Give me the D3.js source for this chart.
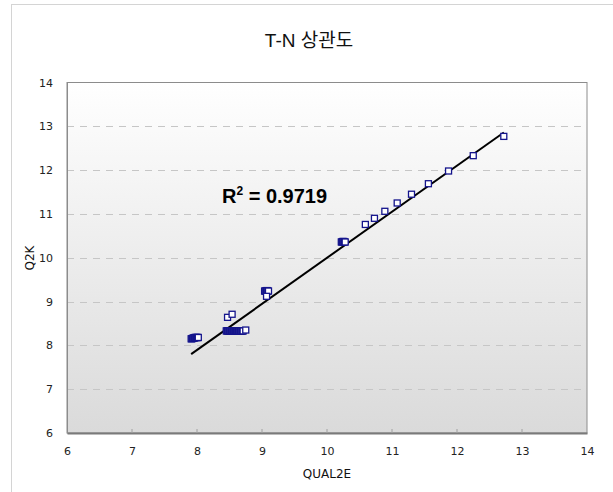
<!DOCTYPE html>
<html><head><meta charset="utf-8">
<script src="https://cdn.jsdelivr.net/npm/d3@7"></script>
<style>body{margin:0;background:#fff;} svg{display:block;}</style>
</head><body>
<svg id="c" width="613" height="492"></svg>
<script>
const qual2e = [7.91,7.92,7.93,7.94,7.95,7.96,7.97,7.98,7.99,8.00,8.01,8.02, 8.47,8.54,
  8.45,8.46,8.47,8.48,8.49,8.50,8.51,8.52,8.53,8.54,8.55,8.56,8.57,8.58,8.59,8.60,8.61,8.62,8.63,8.64,8.65,8.66,8.67,8.68,8.69,8.70,8.71,8.75,
  9.04,9.05,9.06,9.07,9.08,9.09,9.10,9.07, 10.22,10.23,10.24,10.25,10.26,10.27,10.28,
  10.59,10.73,10.89,11.08,11.30,11.56,11.87,12.25,12.72];
const q2k    = [8.15,8.15,8.16,8.16,8.17,8.17,8.18,8.18,8.18,8.18,8.18,8.18, 8.64,8.71,
  8.33,8.33,8.33,8.33,8.33,8.33,8.33,8.33,8.33,8.33,8.33,8.33,8.33,8.33,8.33,8.33,8.33,8.33,8.33,8.33,8.33,8.33,8.33,8.33,8.33,8.33,8.33,8.35,
  9.24,9.24,9.24,9.25,9.25,9.24,9.24,9.12, 10.36,10.36,10.37,10.37,10.37,10.36,10.36,
  10.76,10.90,11.06,11.25,11.45,11.69,11.98,12.33,12.77];
const trendX = [7.91, 12.72];
const trendY = [7.80, 12.86];
const xTicks = [6,7,8,9,10,11,12,13,14];
const yTicks = [6,7,8,9,10,11,12,13,14];
const title = "T-N 상관도";
const xLabel = "QUAL2E";
const yLabel = "Q2K";
const r2Text = "0.9719";

const svg = d3.select("#c");
const L=67, T=82.5, R=587, B=433;
const x = d3.scaleLinear().domain([6,14]).range([L,R]);
const y = d3.scaleLinear().domain([6,14]).range([B,T]);

// outer border
svg.append("rect").attr("x",11.5).attr("y",4.5).attr("width",640).attr("height",520)
  .attr("fill","#fff").attr("stroke","#d4d4d4");

const defs = svg.append("defs");
const g = defs.append("linearGradient").attr("id","bg").attr("x1",0).attr("y1",0).attr("x2",0).attr("y2",1);
g.append("stop").attr("offset","0%").attr("stop-color","#ffffff");
g.append("stop").attr("offset","100%").attr("stop-color","#dadada");

svg.append("rect").attr("x",L).attr("y",T).attr("width",R-L).attr("height",B-T)
  .attr("fill","url(#bg)").attr("stroke","#8c8c8c").attr("stroke-width",1);

// gridlines
svg.append("g").selectAll("line").data(yTicks.filter(d=>d>6&&d<14)).join("line")
  .attr("x1",L).attr("x2",R).attr("y1",d=>Math.round(y(d))+0.5).attr("y2",d=>Math.round(y(d))+0.5)
  .attr("stroke","#c6c6c6").attr("stroke-dasharray","7,6");

// x axis
const xa = svg.append("g").attr("transform",`translate(0,${B})`)
  .call(d3.axisBottom(x).tickValues(xTicks).tickSize(0).tickPadding(14).tickFormat(d3.format("d")));
xa.select(".domain").attr("stroke","#7a7a7a").attr("stroke-width",2);
xa.selectAll("text").attr("font-family","DejaVu Sans, Verdana, sans-serif").attr("font-size",11).attr("fill","#222");
svg.append("g").selectAll("line").data(xTicks.slice(1,-1)).join("line")
  .attr("x1",d=>x(d)).attr("x2",d=>x(d)).attr("y1",B).attr("y2",B-4).attr("stroke","#a0a0a0");

// y axis
const ya = svg.append("g").attr("transform",`translate(${L},0)`)
  .call(d3.axisLeft(y).tickValues(yTicks).tickSize(0).tickPadding(14).tickFormat(d3.format("d")));
ya.select(".domain").attr("stroke","#8c8c8c");
ya.selectAll("text").attr("font-family","DejaVu Sans, Verdana, sans-serif").attr("font-size",11).attr("fill","#222");

// trend line
svg.append("line").attr("x1",x(trendX[0])).attr("y1",y(trendY[0])).attr("x2",x(trendX[1])).attr("y2",y(trendY[1]))
  .attr("stroke","#000").attr("stroke-width",2);

// points
svg.append("g").selectAll("rect").data(qual2e.map((v,i)=>[v,q2k[i]])).join("rect")
  .attr("x",d=>x(d[0])-3).attr("y",d=>y(d[1])-3).attr("width",6).attr("height",6)
  .attr("fill","#fff").attr("stroke","#14148c").attr("stroke-width",1.3);

// title
svg.append("text").attr("x",309).attr("y",47).attr("text-anchor","middle")
  .attr("font-family","Liberation Sans, Noto Sans CJK KR, sans-serif").attr("font-size",19).attr("fill","#111").text(title);

// axis labels
svg.append("text").attr("x",327).attr("y",478).attr("text-anchor","middle")
  .attr("font-family","DejaVu Sans, Verdana, sans-serif").attr("font-size",12).attr("fill","#111").text(xLabel);
svg.append("text").attr("transform","translate(34,258) rotate(-90)").attr("text-anchor","middle")
  .attr("font-family","DejaVu Sans, Verdana, sans-serif").attr("font-size",12).attr("fill","#111").text(yLabel);

// R2
const rt = svg.append("text").attr("x",222).attr("y",203)
  .attr("font-family","Liberation Sans, Arial, sans-serif").attr("font-size",20).attr("font-weight","bold").attr("fill","#000");
rt.append("tspan").text("R");
rt.append("tspan").attr("font-size",12).attr("dy",-8).text("2");
rt.append("tspan").attr("dy",8).text(" = " + r2Text);
</script>
</body></html>
